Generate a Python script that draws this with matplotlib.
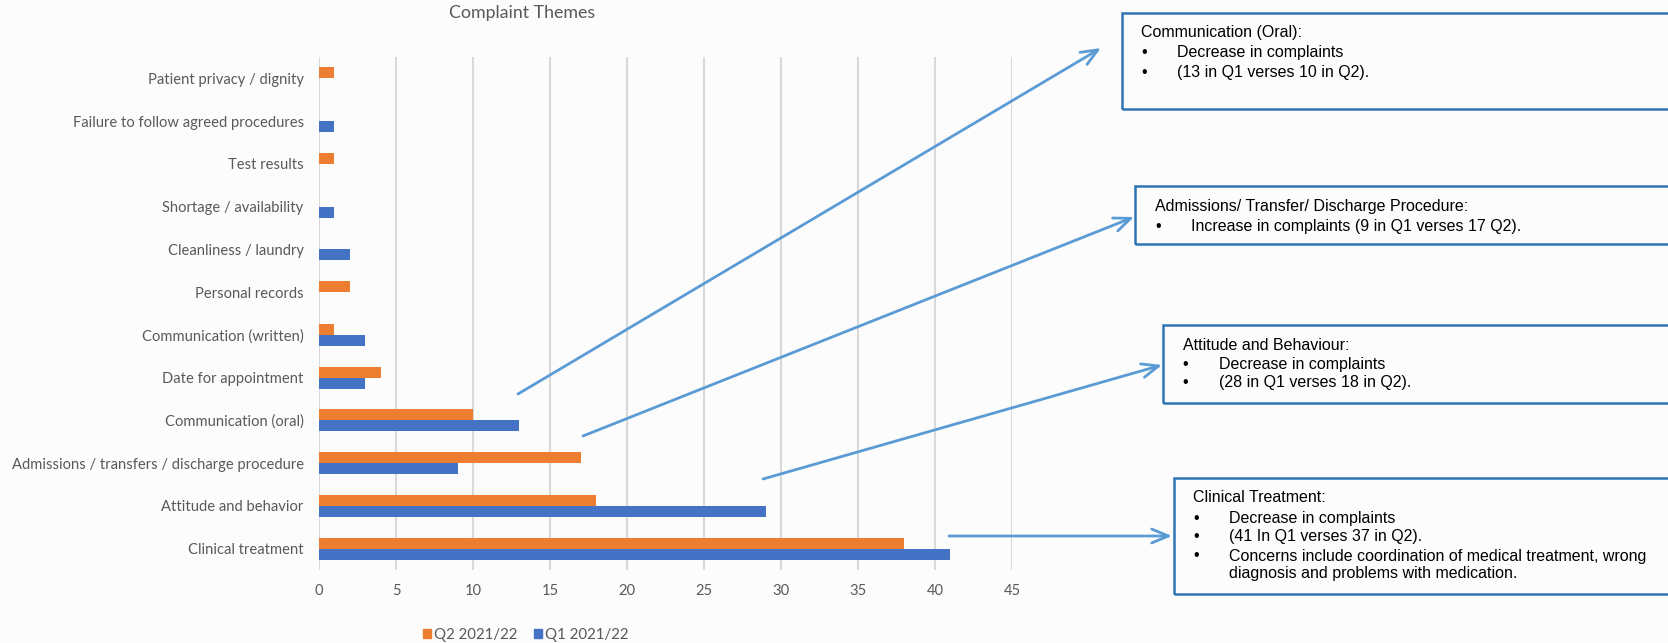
import matplotlib

matplotlib.use('Agg')
import matplotlib.pyplot as plt
import numpy as np
from matplotlib.patches import Rectangle, Patch

# complaint themes, bottom to top
themes = ['Clinical treatment', 'Attitude and behavior',
          'Admissions / transfers / discharge procedure', 'Communication (oral)',
          'Date for appointment', 'Communication (written)', 'Personal records',
          'Cleanliness / laundry', 'Shortage / availability', 'Test results',
          'Failure to follow agreed procedures', 'Patient privacy / dignity']
q2_counts = [38, 18, 17, 10, 4, 1, 2, 0, 0, 1, 0, 1]
q1_counts = [41, 29, 9, 13, 3, 3, 0, 2, 1, 0, 1, 0]
series_names = ['Q2 2021/22', 'Q1 2021/22']
x_ticks = [0, 5, 10, 15, 20, 25, 30, 35, 40, 45]

notes = [
    ('Communication (Oral):', ['Decrease in complaints', '(13 in Q1 verses 10 in Q2).']),
    ('Admissions/ Transfer/ Discharge Procedure:',
     ['Increase in complaints (9 in Q1 verses 17 Q2).']),
    ('Attitude and Behaviour:', ['Decrease in complaints', '(28 in Q1 verses 18 in Q2).']),
    ('Clinical Treatment:', ['Decrease in complaints', '(41 In Q1 verses 37 in Q2).',
                             'Concerns include coordination of medical treatment, wrong\n'
                             'diagnosis and problems with medication.']),
]

W, H = 1668, 643
ORANGE = '#ED7D31'
BLUE = '#4472C4'
GREY = '#595959'
BG = '#FCFCFC'
LINE = '#5B9BD5'
EDGE = '#2E75B6'


def fpos(x, y):
    # pixel position (from top-left) -> figure fraction
    return x / W, 1 - y / H


fig = plt.figure(figsize=(W / 100, H / 100), dpi=100, facecolor=BG)
ax = fig.add_axes([319 / W, 1 - 570 / H, (1012 - 319) / W, (570 - 57) / H])
ax.set_facecolor(BG)

y = np.arange(len(themes))
bh = 0.257
ax.barh(y + bh / 2, q2_counts, height=bh, color=ORANGE, label=series_names[0])
ax.barh(y - bh / 2, q1_counts, height=bh, color=BLUE, label=series_names[1])

ax.set_xlim(0, 45)
ax.set_ylim(-0.5, len(themes) - 0.5)
ax.set_xticks(x_ticks)
ax.set_yticks(y)
ax.set_yticklabels(themes)
ax.xaxis.grid(True, color='#D9D9D9', linewidth=1.5)
ax.set_axisbelow(True)
for s in ax.spines.values():
    s.set_visible(False)
ax.tick_params(length=0, colors=GREY, labelsize=10.6)
ax.tick_params(axis='y', pad=11)
ax.tick_params(axis='x', pad=10)
for lab in ax.get_xticklabels() + ax.get_yticklabels():
    lab.set_fontfamily('Lato')

fig.text(*fpos(522, 13), 'Complaint Themes', ha='center', va='center',
         color=GREY, fontsize=12.8, fontfamily='Lato')

handles = [Patch(color=ORANGE), Patch(color=BLUE)]
fig.legend(handles, series_names, loc='center', bbox_to_anchor=fpos(526, 635),
           ncol=2, frameon=False, handlelength=0.55, handleheight=0.55,
           handletextpad=0.2, columnspacing=1.1,
           prop={'family': 'Lato', 'size': 10.8}, labelcolor=GREY)

# note boxes: left, top, bottom, title position, bullet x, text x, line ys
boxes = [
    (1122, 13, 109, (1141, 32), 1144, 1177, [53, 72]),
    (1135, 186, 244, (1155, 206), 1158, 1191, [226]),
    (1163, 325, 403, (1183, 346), 1185, 1219, [365, 383]),
    (1174, 478, 594, (1193, 497), 1196, 1229, [518, 537, 565]),
]
for (left, top, bottom, tpos, bx, tx, ys), (title, items) in zip(boxes, notes):
    x0, y0 = fpos(left, bottom)
    x1, y1 = fpos(W + 20, top)
    fig.add_artist(Rectangle((x0, y0), x1 - x0, y1 - y0, transform=fig.transFigure,
                             facecolor='none', edgecolor=EDGE, linewidth=1.8))
    fig.text(*fpos(*tpos), title, ha='left', va='center', fontsize=11.5,
             fontfamily='Liberation Sans', color='black')
    for yy, item in zip(ys, items):
        fig.text(*fpos(bx, yy - (9.5 if '\n' in item else 0)), '\u2022', ha='center',
                 va='center', fontsize=11.5, fontfamily='Liberation Sans')
        fig.text(*fpos(tx, yy), item, ha='left', va='center', fontsize=11.5,
                 fontfamily='Liberation Sans', linespacing=1.15)

# arrows from the bars to the notes
arrows = [((518, 394), (1101, 48)), ((583, 436), (1134, 217)),
          ((763, 479), (1162, 365)), ((949, 536), (1172, 536))]
for start, end in arrows:
    ax.annotate('', xy=fpos(*end), xycoords='figure fraction',
                xytext=fpos(*start), textcoords='figure fraction',
                arrowprops=dict(arrowstyle='->,head_length=1.2,head_width=0.5',
                                color=LINE, linewidth=2, shrinkA=0, shrinkB=0),
                annotation_clip=False)

fig.savefig('out.png', dpi=100, facecolor=BG)
